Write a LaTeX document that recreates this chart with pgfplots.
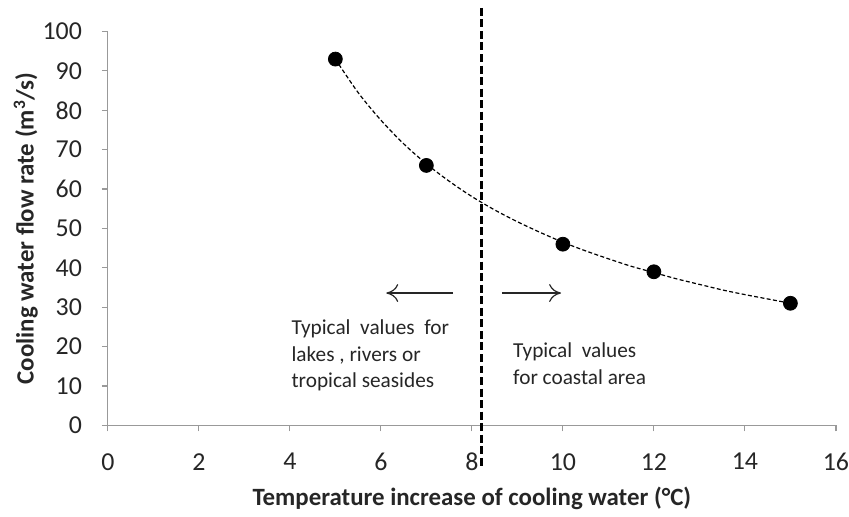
\documentclass[border=0pt]{standalone}
\usepackage{pgfplots}
\pgfplotsset{compat=1.18}
\usetikzlibrary{arrows.meta}
\usepackage{fontspec}
\setmainfont{Carlito}
\begin{document}
\begin{tikzpicture}
\begin{axis}[
  scale only axis,
  width=366pt, height=198pt,
  xmin=0, xmax=16, ymin=0, ymax=100,
  xtick={0,2,...,16}, ytick={0,10,...,100},
  axis lines=left,
  axis line style={draw=gray!80, line width=0.6pt, -},
  tick style={draw=gray!80, line width=0.6pt},
  tick align=outside,
  major tick length=3pt,
  /pgf/number format/assume math mode=true,
  ticklabel style={font=\fontsize{13}{15}\selectfont, text=black!85},
  xticklabel style={yshift=-7.5pt, inner xsep=0pt},
  yticklabel style={xshift=-6.5pt},
  xlabel={\textbf{Temperature increase of cooling water (°C)}},
  ylabel={\textbf{Cooling water flow rate (m\textsuperscript{3}/s)}},
  label style={font=\fontsize{12.5}{14}\selectfont, text=black!85},
  xlabel style={yshift=-1pt},
  ylabel style={yshift=-4.5pt},
  clip=false,
]
\addplot[black, dashed, dash pattern=on 2pt off 1.2pt, line width=0.6pt, smooth] coordinates {
 (5,93) (5.5,84.5) (6,77.5) (6.5,71.5) (7,66.4) (7.5,62) (8,58.1) (8.5,54.7) (9,51.7) (9.5,49) (10,46.5)
 (10.5,44.3) (11,42.3) (11.5,40.4) (12,38.8) (12.5,37.2) (13,35.8) (13.5,34.4) (14,33.2) (14.5,32.1) (15,31)};
\addplot[only marks, mark=*, mark size=3.5pt, black] coordinates {
 (5,93) (7,66) (10,46) (12,39) (15,31)};
\addplot[black, line width=1.5pt, dash pattern=on 4pt off 1.8pt] coordinates {(8.22,106) (8.22,-10.5)};
\path (axis cs:8.22,108);
\draw[-{To[length=6pt,width=9pt]}, line width=0.6pt, black!85] (axis cs:7.59,33.6) -- (axis cs:6.12,33.6);
\draw[-{To[length=6pt,width=9pt]}, line width=0.6pt, black!85] (axis cs:8.66,33.6) -- (axis cs:9.96,33.6);
\node[anchor=north west, align=left, font=\fontsize{10.7}{13.5}\selectfont, text=black!85, inner sep=0pt] at (axis cs:4.03,27)
 {Typical\ \ values\ \ for\\lakes , rivers or\\tropical seasides};
\node[anchor=north west, align=left, font=\fontsize{10.7}{13.5}\selectfont, text=black!85, inner sep=0pt] at (axis cs:8.9,21)
 {Typical\ \ values\\for coastal area};
\end{axis}
\path ([xshift=-3.5pt]current bounding box.west);
\end{tikzpicture}
\end{document}
